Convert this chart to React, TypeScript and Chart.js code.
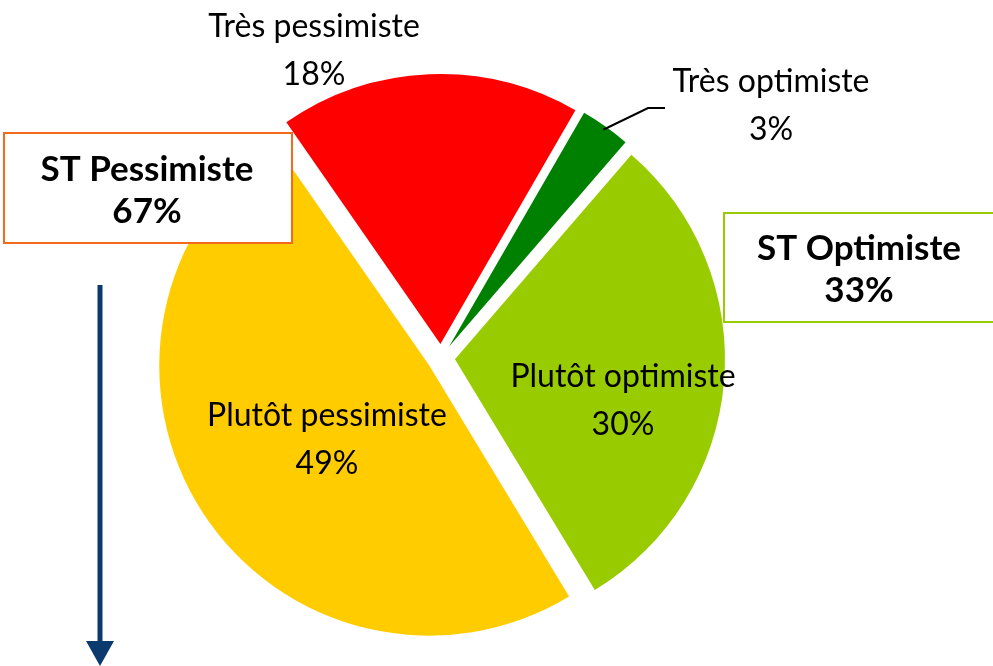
import React, { useEffect, useRef } from "react";
import { Chart, registerables } from "chart.js";

Chart.register(...registerables);

// ---- data ----
const categories = ["Très optimiste", "Plutôt optimiste", "Plutôt pessimiste", "Très pessimiste"];
const values = [3, 30, 49, 18];
const percentLabels = ["3%", "30%", "49%", "18%"];
const groupNames = ["ST Pessimiste", "ST Optimiste"];
const groupPercents = ["67%", "33%"];

// ---- styles / layout ----
const sliceColors = ["#008000", "#99CC00", "#FFCC00", "#FF0000"];
const W = 993;
const H = 666;
const EXPLODE = 14;
const RADIUS = 270;
const FONT = "Lato, 'Open Sans', sans-serif";
const labelPos = [
  { x: 771, y: 92 },
  { x: 623, y: 387 },
  { x: 327, y: 426 },
  { x: 314, y: 37 },
];
const LINE_GAP = 48;

const explodePlugin = {
  id: "explode",
  afterDatasetsUpdate(chart: any) {
    const meta = chart.getDatasetMeta(0);
    meta.data.forEach((arc: any) => {
      const mid = (arc.startAngle + arc.endAngle) / 2;
      arc.x += Math.cos(mid) * EXPLODE;
      arc.y += Math.sin(mid) * EXPLODE;
    });
  },
};

const annotationPlugin = {
  id: "annotations",
  afterDraw(chart: any) {
    const ctx: CanvasRenderingContext2D = chart.ctx;
    ctx.save();
    ctx.fillStyle = "#000";
    ctx.textAlign = "center";
    ctx.textBaseline = "alphabetic";
    ctx.font = `32px ${FONT}`;
    categories.forEach((c, i) => {
      const p = labelPos[i];
      ctx.fillText(c, p.x, p.y);
      ctx.fillText(percentLabels[i], p.x, p.y + LINE_GAP);
    });

    // leader line for small slice
    const arc = chart.getDatasetMeta(0).data[0];
    const mid = (arc.startAngle + arc.endAngle) / 2;
    const r0 = arc.outerRadius - 4;
    const sx = arc.x + Math.cos(mid) * r0;
    const sy = arc.y + Math.sin(mid) * r0;
    ctx.strokeStyle = "#000";
    ctx.lineWidth = 2;
    ctx.beginPath();
    ctx.moveTo(sx, sy);
    ctx.lineTo(648, 108);
    ctx.lineTo(665, 108);
    ctx.stroke();

    // group boxes
    const boxes = [
      { x: 4, y: 133, w: 288, h: 110, color: "#F26A1B", cx: 147, by: 181 },
      { x: 724, y: 213, w: 270, h: 109, color: "#99CC00", cx: 859, by: 260 },
    ];
    boxes.forEach((b, i) => {
      ctx.fillStyle = "#fff";
      ctx.fillRect(b.x, b.y, b.w, b.h);
      ctx.strokeStyle = b.color;
      ctx.lineWidth = 2;
      ctx.strokeRect(b.x, b.y, b.w, b.h);
      ctx.fillStyle = "#000";
      ctx.font = `bold 35px ${FONT}`;
      ctx.fillText(groupNames[i], b.cx, b.by);
      ctx.fillText(groupPercents[i], b.cx, b.by + 42);
    });

    // arrow
    ctx.strokeStyle = "#0B3A6E";
    ctx.fillStyle = "#0B3A6E";
    ctx.lineWidth = 5;
    ctx.beginPath();
    ctx.moveTo(100, 285);
    ctx.lineTo(100, 645);
    ctx.stroke();
    ctx.beginPath();
    ctx.moveTo(86, 641);
    ctx.lineTo(114, 641);
    ctx.lineTo(100, 666);
    ctx.closePath();
    ctx.fill();
    ctx.restore();
  },
};

export default function App() {
  const ref = useRef<HTMLCanvasElement>(null);
  useEffect(() => {
    if (!ref.current) return;
    const chart = new Chart(ref.current, {
      type: "pie",
      data: {
        labels: categories,
        datasets: [
          {
            data: values,
            backgroundColor: sliceColors,
            borderWidth: 0,
          },
        ],
      },
      options: {
        responsive: false,
        animation: false,
        events: [],
        rotation: 30,
        radius: RADIUS,
        layout: { padding: { left: 141, right: 252, top: 58, bottom: 8 } },
        plugins: {
          legend: { display: false },
          tooltip: { enabled: false },
        },
      },
      plugins: [explodePlugin, annotationPlugin],
    });
    return () => chart.destroy();
  }, []);
  return (
    <div style={{ position: "absolute", left: 0, top: 0, width: W, height: H, background: "#fff" }}>
      <canvas ref={ref} width={W} height={H} style={{ display: "block" }} />
    </div>
  );
}
